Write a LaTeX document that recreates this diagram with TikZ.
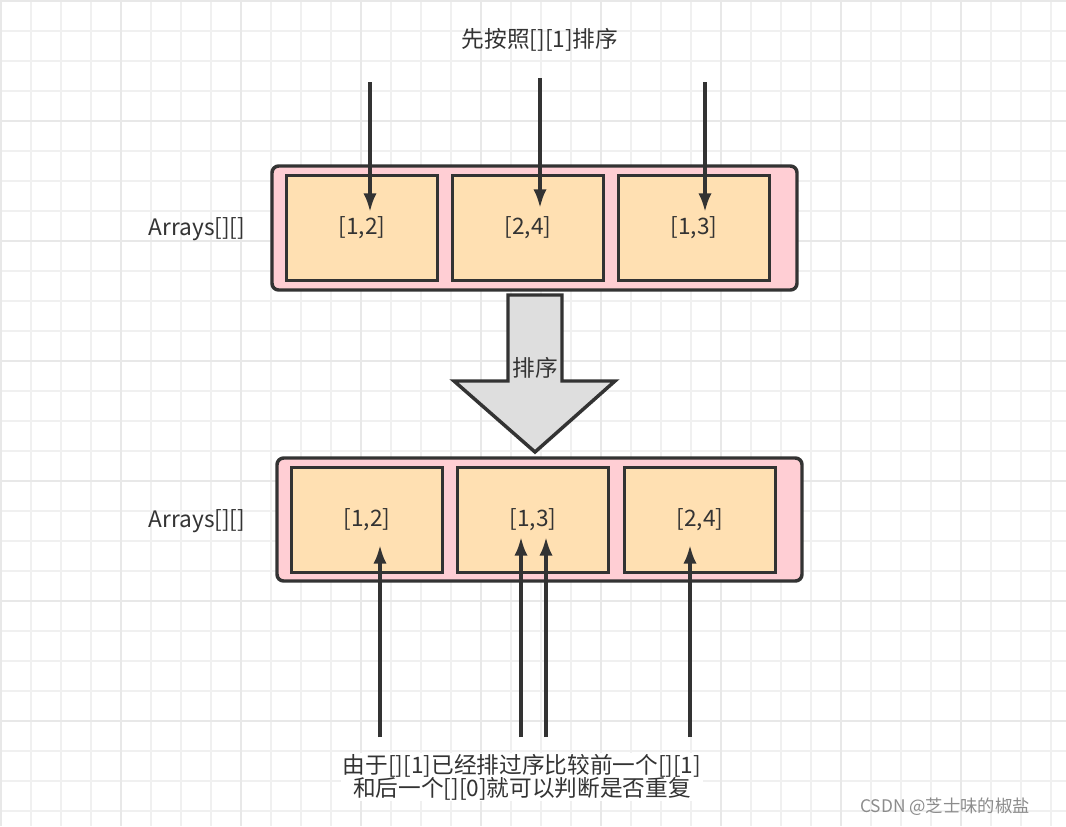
\documentclass[tikz,border=0pt]{standalone}
\usepackage{fontspec}
\setmainfont{Noto Sans CJK SC}
\usetikzlibrary{arrows.meta}
\definecolor{peach}{HTML}{FFE0B2}
\definecolor{rosy}{HTML}{FFCED4}
\definecolor{ink}{HTML}{333333}
\begin{document}
\begin{tikzpicture}[x=0.75pt,y=-0.75pt,
  outer/.style={draw=ink,line width=2.6pt,fill=rosy,rounded corners=5pt},
  inner/.style={draw=ink,line width=2.6pt,fill=peach,minimum width=113pt,minimum height=79pt,inner sep=0pt,font=\fontsize{17}{20}\selectfont,text=ink},
  arr/.style={draw=ink,line width=2.6pt,-{Latex[length=14pt,width=10pt]}},
  lbl/.style={font=\fontsize{17}{20}\selectfont,text=ink,align=center}]
\useasboundingbox (0,0) rectangle (1066,826);
\fill[white] (0,0) rectangle (1066,826);
\foreach \i in {0,...,36}{\draw[black!6,line width=0.9pt] ({1+30*\i},0) -- ({1+30*\i},826);}
\foreach \i in {0,...,28}{\draw[black!6,line width=0.9pt] (0,{1+30*\i}) -- (1066,{1+30*\i});}
\foreach \i in {0,...,9}{\draw[black!9,line width=0.9pt] ({1+120*\i},0) -- ({1+120*\i},826);}
\foreach \i in {0,...,7}{\draw[black!9,line width=0.9pt] (0,{1+120*\i}) -- (1066,{1+120*\i});}
% top
\draw[outer] (272,166) rectangle (797,290);
\node[inner] (a1) at (362,228) {[1,2]};
\node[inner] (a2) at (528,228) {[2,4]};
\node[inner] (a3) at (694,228) {[1,3]};
\node[lbl] (t1) at (197,229) {Arrays[][]};
\node[lbl] (title) at (540,40) {先按照[][1]排序};
\coordinate (s1) at (370,82); \coordinate (e1) at (370,212);
\coordinate (s2) at (540,78); \coordinate (e2) at (540,208);
\coordinate (s3) at (705,82); \coordinate (e3) at (705,212);
\draw[arr] (s1) -- (e1); \draw[arr] (s2) -- (e2); \draw[arr] (s3) -- (e3);
% big arrow
\draw[draw=ink,line width=2.6pt,fill=black!13,line join=miter] (508,295) -- (562,295) -- (562,381) -- (615,381) -- (535,452) -- (454,381) -- (508,381) -- cycle;
\node[lbl] (sort) at (535,368) {排序};
% bottom
\draw[outer] (277,458) rectangle (802,581);
\node[inner] (b1) at (367,520) {[1,2]};
\node[inner] (b2) at (533,520) {[1,3]};
\node[inner] (b3) at (700,520) {[2,4]};
\node[lbl] (t2) at (197,521) {Arrays[][]};
\coordinate (u1) at (380,737); \coordinate (v1) at (380,545);
\coordinate (u2) at (521,737); \coordinate (v2) at (521,537);
\coordinate (u3) at (546,737); \coordinate (v3) at (546,537);
\coordinate (u4) at (690,737); \coordinate (v4) at (690,545);
\draw[arr] (u1) -- (v1); \draw[arr] (u2) -- (v2); \draw[arr] (u3) -- (v3); \draw[arr] (u4) -- (v4);
\node[lbl,fill=white,inner sep=1pt] (note) at (522,777) {由于[][1]已经排过序比较前一个[][1]\\[-3pt]和后一个[][0]就可以判断是否重复};
\node[font=\fontsize{13}{15}\selectfont,text=black!45] (wm) at (945,807) {CSDN @芝士味的椒盐};
\end{tikzpicture}
\end{document}
